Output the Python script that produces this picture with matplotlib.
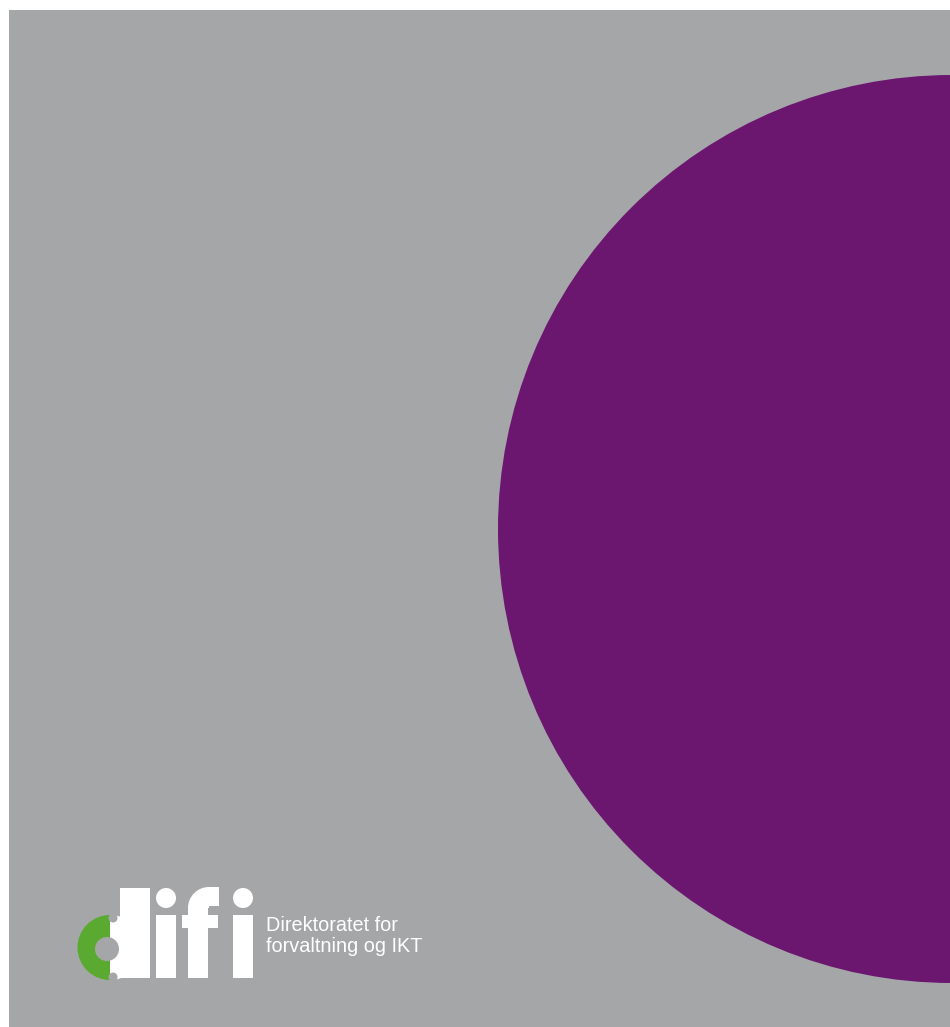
import matplotlib.pyplot as plt
from matplotlib.patches import Rectangle, Circle, Wedge

# cover page content
logo_lines = ['Direktoratet for', 'forvaltning og IKT']
bg_gray = '#a5a6a8'
purple = '#6b1770'
green = '#5aaa32'


def draw_logo(ax):
    # "d": green left half of bowl, white right half, white stem
    ax.add_patch(Wedge((110, 947.5), 32.5, 90, 270, color=green, lw=0))
    ax.add_patch(Wedge((110, 947.5), 32.5, -90, 90, color='white', lw=0))
    ax.add_patch(Rectangle((120, 888), 30, 90, color='white', lw=0))
    ax.add_patch(Circle((107, 949), 12, color=bg_gray, lw=0))
    # small notches where the bowl meets the stem
    ax.add_patch(Circle((113, 918), 4.5, color=bg_gray, lw=0))
    ax.add_patch(Circle((113, 977), 4.5, color=bg_gray, lw=0))
    # first "i"
    ax.add_patch(Circle((166, 898), 10, color='white', lw=0))
    ax.add_patch(Rectangle((156, 915), 19.5, 63, color='white', lw=0))
    # "f"
    ax.add_patch(Rectangle((188, 906), 20, 72, color='white', lw=0))
    ax.add_patch(Wedge((209, 908), 21, 180, 270, color='white', lw=0))
    ax.add_patch(Rectangle((208, 887), 11, 19, color='white', lw=0))
    ax.add_patch(Rectangle((182, 915), 36, 13, color='white', lw=0))
    # second "i"
    ax.add_patch(Circle((243, 898), 10, color='white', lw=0))
    ax.add_patch(Rectangle((233, 915), 19.5, 63, color='white', lw=0))
    # text next to the logo
    for i, line in enumerate(logo_lines):
        ax.text(266, 931 + i * 21, line, color='white', fontsize=14.3,
                family='Liberation Sans', va='baseline', ha='left')


def main():
    fig = plt.figure(figsize=(9.5, 10.27), dpi=100)
    ax = fig.add_axes([0, 0, 1, 1])
    ax.set_xlim(0, 950)
    ax.set_ylim(1027, 0)
    ax.axis('off')

    ax.add_patch(Rectangle((9, 10), 945, 1020, color=bg_gray, lw=0))
    ax.add_patch(Circle((952, 529), 454, color=purple, lw=0))

    draw_logo(ax)

    fig.savefig('out.png', dpi=100, facecolor='white')


if __name__ == '__main__':
    main()
